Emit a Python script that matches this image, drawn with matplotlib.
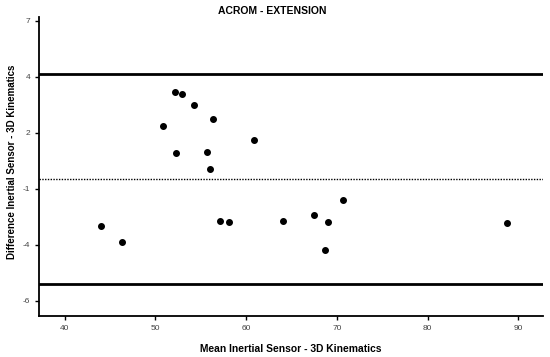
import matplotlib
matplotlib.use('Agg')
import matplotlib.pyplot as plt
import numpy as np

plt.rcParams['font.family'] = ['Liberation Sans', 'DejaVu Sans']

# mean of the two methods (x) and their difference (y)
meanVals = [44.0, 46.3, 50.8, 52.2, 52.9, 52.3, 54.3, 56.3, 55.7, 56.0,
            57.1, 58.1, 60.9, 64.1, 67.5, 69.0, 68.7, 70.7, 88.7]
diffVals = [-2.81, -3.60, 1.96, 3.57, 3.48, 0.66, 2.97, 2.28, 0.72, -0.08,
            -2.57, -2.62, 1.31, -2.60, -2.28, -2.63, -3.96, -1.56, -2.69]

meanDiff = -0.56
upperLoA = 4.45
lowerLoA = -5.57

xTicks = [40, 50, 60, 70, 80, 90]
yTicks = [7.0, 4.32, 1.64, -1.04, -3.72, -6.4]
yTickLabels = ['7', '4', '2', '-1', '-4', '-6']

fig = plt.figure(figsize=(5.5, 3.57), dpi=100)
ax = fig.add_axes([0.0715, 0.1157, 0.9155, 0.8373])

ax.axhline(upperLoA, color='black', lw=2)
ax.axhline(lowerLoA, color='black', lw=2)
ax.axhline(meanDiff, color='black', lw=1, linestyle=(0, (1, 1)))
ax.scatter(meanVals, diffVals, s=16, color='black', zorder=3)

ax.set_xlim(37.2, 92.7)
ax.set_ylim(-7.11, 7.19)
ax.set_xticks(xTicks)
ax.set_yticks(yTicks)
ax.set_yticklabels(yTickLabels)
ax.tick_params(labelsize=6, labelcolor='#444444', length=3, width=1)

ax.spines['top'].set_visible(False)
ax.spines['right'].set_visible(False)
ax.spines['left'].set_linewidth(1.3)
ax.spines['bottom'].set_linewidth(1.3)

ax.set_xlabel('Mean Inertial Sensor - 3D Kinematics', fontsize=7.4, fontweight='bold', labelpad=9)
fig.text(0.022, 0.548, 'Difference Inertial Sensor - 3D Kinematics', fontsize=7.0,
         fontweight='bold', rotation=90, ha='center', va='center')
fig.text(0.495, 0.968, 'ACROM - EXTENSION', fontsize=7.5, fontweight='bold', ha='center', va='center')

fig.savefig('out.png', dpi=100)
